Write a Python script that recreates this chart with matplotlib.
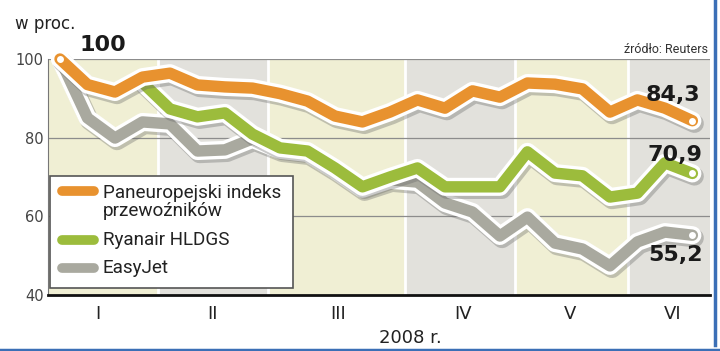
import numpy as np
import matplotlib
matplotlib.use("Agg")
import matplotlib.pyplot as plt
import matplotlib.patheffects as pe
from matplotlib.lines import Line2D
from matplotlib.patches import Rectangle

# ---- data (weekly observations, 2008, index = 100 at start) ----
weeks = np.arange(24)
pan_europe = [100, 93.5, 91.6, 95.4, 96.4, 93.4, 92.9, 92.6, 91.2, 89.3, 85.5, 84.0,
              86.5, 89.6, 87.5, 91.9, 90.3, 93.9, 93.6, 92.4, 86.5, 89.6, 87.5, 84.3]
ryanair = [np.nan, np.nan, np.nan, 94.0, 87.3, 85.3, 86.3, 80.9, 77.4, 76.6, 72.3, 67.5,
           70.0, 72.3, 67.5, 67.5, 67.5, 76.4, 71.0, 70.3, 64.9, 65.9, 73.6, 70.9]
easyjet = [100, 85.0, 79.9, 84.0, 83.5, 76.6, 76.9, 79.7, 76.9, 76.1, 71.8, 67.0,
           69.3, 68.7, 63.4, 61.1, 55.0, 59.8, 53.2, 51.7, 47.4, 53.5, 56.0, 55.2]

series_names = ["Paneuropejski indeks\nprzewoźników", "Ryanair HLDGS", "EasyJet"]
series_colors = ["#e8922f", "#9cbc3c", "#a9a99f"]
end_labels = ["84,3", "70,9", "55,2"]

month_labels = ["I", "II", "III", "IV", "V", "VI"]
month_label_pos = [1.38, 5.53, 10.1, 14.65, 18.55, 22.3]
month_edges = [-0.436, 3.56, 7.56, 12.55, 16.55, 20.65, 23.64]
yticks = [40, 60, 80, 100]

# ---- figure ----
fig = plt.figure(figsize=(7.2, 3.51), dpi=100)
fig.patch.set_facecolor("white")
L, R, T, B = 48, 710, 59, 295
W, H = 720, 351
ax = fig.add_axes([L / W, 1 - B / H, (R - L) / W, (B - T) / H])
ax.set_xlim(month_edges[0], month_edges[-1])
ax.set_ylim(40, 100)
ax.set_facecolor("white")

band_cols = ["#f0efd4", "#e2e1dc"]
for i in range(len(month_edges) - 1):
    ax.axvspan(month_edges[i], month_edges[i + 1], color=band_cols[i % 2], lw=0, zorder=0)
for e in month_edges[1:-1]:
    ax.axvline(e, color="white", lw=2, zorder=0.5)
for yv in [60, 80, 100]:
    ax.axhline(yv, color="#8c8c8c", lw=0.9, zorder=0.8)

for s in ["top", "right"]:
    ax.spines[s].set_visible(False)
ax.spines["left"].set_color("#777777")
ax.spines["left"].set_linewidth(0.8)
ax.spines["bottom"].set_color("#111111")
ax.spines["bottom"].set_linewidth(2)
ax.spines["bottom"].set_zorder(5)

ax.set_yticks(yticks)
ax.set_yticklabels([str(v) for v in yticks], fontsize=10.5, color="#444444")
ax.tick_params(axis="y", length=0, pad=3)
ax.set_xticks(month_label_pos)
ax.set_xticklabels(month_labels, fontsize=13, color="#222222")
ax.tick_params(axis="x", length=0, pad=7)

effects = [pe.SimpleLineShadow(offset=(1.5, -2), shadow_color="#666666", alpha=0.35,
                               linewidth=13.5),
           pe.Stroke(linewidth=13, foreground="white"),
           pe.Normal()]

data = [pan_europe, ryanair, easyjet]
zs = [4, 3, 2]
for vals, col, z in zip(data, series_colors, zs):
    ax.plot(weeks, vals, color=col, lw=8.2, solid_joinstyle="round",
            solid_capstyle="round", zorder=z, clip_on=False, path_effects=effects)
    v = np.array(vals, dtype=float)
    idx = np.where(~np.isnan(v))[0]
    ax.plot(weeks[idx[-1]], v[idx[-1]], "o", ms=5, mfc="white", mec="none",
            zorder=z + 0.1, clip_on=False)

ax.plot(weeks[0], pan_europe[0], "o", ms=5, mfc="white", mec="none", zorder=4.2, clip_on=False)

# value labels
ax.text(1.56, 103.6, "100", fontsize=16, fontweight="bold", color="#1a1a1a",
        ha="center", va="center", zorder=6)
label_xy = [(22.3, 90.8), (22.36, 75.6), (22.4, 50.2)]
for (lx, ly), t in zip(label_xy, end_labels):
    ax.text(lx, ly, t, fontsize=16, fontweight="bold", color="#1a1a1a",
            ha="center", va="center", zorder=6)

# legend (drawn in axes coordinates)
ax.add_patch(Rectangle((0.003, 0.030), 0.367, 0.474, transform=ax.transAxes,
                       facecolor="white", edgecolor="#555555", lw=1.2, zorder=7))
leg_rows = [0.441, 0.233, 0.114]
for yy, col, name in zip(leg_rows, series_colors, series_names):
    ax.add_line(Line2D([0.021, 0.070], [yy, yy], transform=ax.transAxes, color=col,
                       lw=7, solid_capstyle="round", zorder=8))
    ty = (0.441 + 0.347) / 2 if "\n" in name else yy
    ax.text(0.083, ty, name, transform=ax.transAxes, fontsize=13.6, family="Roboto",
            color="#222222", ha="left", va="center", linespacing=1.0, zorder=8)

# other texts
fig.text(15 / W, 1 - 29 / H, "w proc.", fontsize=12, color="#222222", va="baseline")
fig.text(708 / W, 1 - 53 / H, "źródło: Reuters", fontsize=9, family="Roboto",
         color="#333333", ha="right", va="baseline")
fig.text(410 / W, 1 - 338 / H, "2008 r.", fontsize=13, color="#222222",
         ha="center", va="center")

# screenshot frame
fig.add_artist(Line2D([0, 1], [1 - 349.5 / H] * 2, transform=fig.transFigure,
                      color="#3b6fb6", lw=2.5))
fig.add_artist(Line2D([714.5 / W] * 2, [1 - 345 / H, 1], transform=fig.transFigure,
                      color="#3b6fb6", lw=2.5))

fig.savefig("out.png", dpi=100, facecolor="white")
